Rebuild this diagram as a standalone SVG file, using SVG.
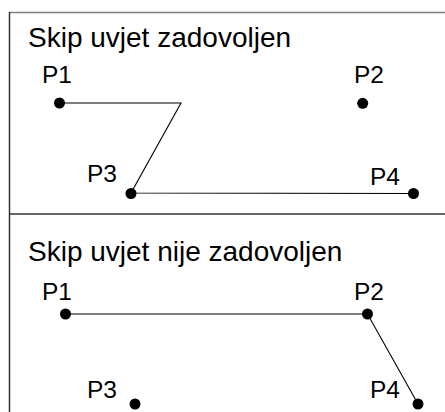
<svg xmlns="http://www.w3.org/2000/svg" width="445" height="412" viewBox="0 0 445 412">
<style>
.t{font-family:"Liberation Sans",Arial,sans-serif;font-size:28px;fill:#000}
.l{font-family:"Liberation Sans",Arial,sans-serif;font-size:24.5px;fill:#000}
.c{stroke:#000;stroke-width:1.1;fill:none}
.d{fill:#000}
</style>
<rect width="445" height="412" fill="#fff"/>
<g id="frame">
<line x1="9.5" y1="12.5" x2="445" y2="12.5" stroke="#808080" stroke-width="1.5"/>
<line x1="9.5" y1="12" x2="9.5" y2="412" stroke="#333" stroke-width="1.5"/>
<line x1="9.5" y1="214" x2="445" y2="214" stroke="#333" stroke-width="1.5"/>
</g>
<text class="t" x="28" y="47">Skip uvjet zadovoljen</text>
<text class="t" x="28" y="261">Skip uvjet nije zadovoljen</text>
<g id="connectors">
<polyline class="c" points="59.5,103 181,103 131,193 413.5,193.5"/>
<polyline class="c" points="65.5,314 367.5,314 418,404"/>
</g>
<g id="top-P1"><text class="l" x="42" y="83">P1</text><circle class="d" cx="59.5" cy="103" r="5.5"/></g>
<g id="top-P2"><text class="l" x="354" y="83">P2</text><circle class="d" cx="362.7" cy="103.3" r="5.5"/></g>
<g id="top-P3"><text class="l" x="87" y="182">P3</text><circle class="d" cx="131" cy="193.5" r="5.5"/></g>
<g id="top-P4"><text class="l" x="370" y="185">P4</text><circle class="d" cx="413.5" cy="193.5" r="5.5"/></g>
<g id="bot-P1"><text class="l" x="42" y="300">P1</text><circle class="d" cx="65.5" cy="314" r="5.5"/></g>
<g id="bot-P2"><text class="l" x="354" y="300">P2</text><circle class="d" cx="367.5" cy="314" r="5.5"/></g>
<g id="bot-P3"><text class="l" x="87" y="398">P3</text><circle class="d" cx="135" cy="404" r="5.5"/></g>
<g id="bot-P4"><text class="l" x="370" y="398">P4</text><circle class="d" cx="418" cy="404" r="5.5"/></g>
</svg>
